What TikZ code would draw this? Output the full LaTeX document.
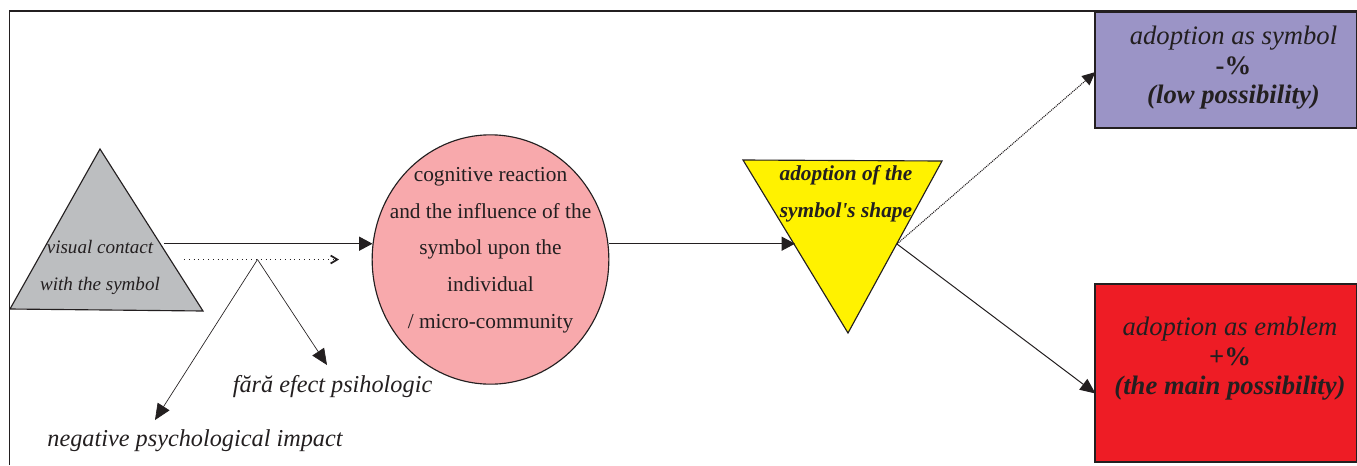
\documentclass[tikz,border=0pt]{standalone}
\usepackage{fontspec}
\setmainfont{Liberation Serif}
\newfontfamily\plainserif{Liberation Serif}
\usetikzlibrary{arrows.meta,shapes.geometric}
\definecolor{ink}{HTML}{231F20}
\definecolor{greyfill}{HTML}{BCBEC0}
\definecolor{pinkfill}{HTML}{F8A9AC}
\definecolor{yellowfill}{HTML}{FFF200}
\definecolor{violetfill}{HTML}{9B94C6}
\definecolor{redfill}{HTML}{EE1C25}
\newcommand{\fsz}[1]{\fontsize{#1}{#1}\selectfont}
\tikzset{
  x=0.75pt,y=-0.75pt,
  every node/.style={text=ink,inner sep=0pt,outer sep=0pt},
  shapeline/.style={draw=ink,line width=0.85pt},
  conn/.style={draw=ink,line width=0.8pt,-{Triangle[length=10pt,width=10.5pt,fill=ink]}},
  slantconn/.style={draw=ink,line width=0.75pt,-{Triangle[length=11.5pt,width=10pt,fill=ink]}},
  thinconn/.style={draw=ink,line width=0.5pt,-{Triangle[length=12pt,width=10.5pt,fill=ink]}},
  dotconn/.style={draw=ink,line width=0.8pt,dash pattern=on 0.8pt off 0.7pt,-{Triangle[length=10pt,width=9pt,fill=ink]}},
  chevconn/.style={draw=ink,line width=0.8pt,dash pattern=on 0.8pt off 2.8pt,-{Straight Barb[length=5pt,width=6pt,line width=1.3pt]}},
  smalltext/.style={font=\fsz{14.3}\itshape,anchor=base},
  bodytext/.style={font=\fsz{16}\rmfamily,anchor=base},
  yellowtext/.style={font=\fsz{16}\plainserif\bfseries\itshape,anchor=base},
  boxline/.style={font=\fsz{20}\itshape,anchor=base},
  boxbold/.style={font=\fsz{20}\bfseries\itshape,anchor=base},
  boxmid/.style={font=\fsz{20}\bfseries,anchor=base},
  bigcap/.style={font=\fsz{18.2}\itshape,anchor=base},
}
\begin{document}
\begin{tikzpicture}
\useasboundingbox (0,0) rectangle (1357,465);
% frame
\coordinate (fa) at (9.5,465);
\coordinate (fb) at (9.5,11);
\coordinate (fc) at (1357,11);
\draw[draw=ink,line width=0.8pt] (fa) -- (fb) -- (fc);
% grey triangle
\coordinate (ga) at (100,149);
\coordinate (gb) at (10,309);
\coordinate (gc) at (203,311);
\draw[shapeline,fill=greyfill] (ga) -- (gb) -- (gc) -- cycle;
% pink ellipse
\node (ell) [shapeline,fill=pinkfill,ellipse,minimum width=177.5pt,minimum height=187pt] at (490.5,259.5) {};
% yellow triangle
\coordinate (ya) at (743,160);
\coordinate (yb) at (942,161);
\coordinate (yc) at (848,333);
\draw[shapeline,fill=yellowfill] (ya) -- (yb) -- (yc) -- cycle;
% boxes
\node (boxa) [shapeline,fill=violetfill,minimum width=196.5pt,minimum height=87pt,anchor=north west] at (1095,12) {};
\node (boxb) [shapeline,fill=redfill,minimum width=196.5pt,minimum height=133.5pt,anchor=north west] at (1095,284) {};
% anchors of connectors
\coordinate (g1) at (164,243.7);
\coordinate (e1) at (372.5,243.7);
\coordinate (e2) at (609,243.7);
\coordinate (y1) at (795,243.7);
\coordinate (y2) at (897,244);
\coordinate (ba) at (1095.5,72);
\coordinate (bb) at (1095.5,393.5);
\coordinate (d1) at (184,259.5);
\coordinate (d2) at (339,259.5);
\coordinate (fork) at (257.5,259.5);
\coordinate (n1) at (155,420);
\coordinate (n2) at (327,365);
% connectors
\draw[conn] (g1) -- (e1);
\draw[chevconn] (d1) -- (d2);
\draw[thinconn] (fork) -- (n1);
\draw[thinconn] (fork) -- (n2);
\draw[conn] (e2) -- (y1);
\draw[dotconn] (y2) -- (ba);
\draw[slantconn] (y2) -- (bb);
% texts
\node (t1) [smalltext] at (100,253) {visual contact};
\node (t2) [smalltext] at (100,290) {with the symbol};
\node (c1) [bodytext] at (490.5,181) {cognitive reaction};
\node (c2) [bodytext] at (490.5,218) {and the influence of the};
\node (c3) [bodytext] at (490.5,254) {symbol upon the};
\node (c4) [bodytext] at (490.5,291) {individual};
\node (c5) [bodytext] at (490.5,328) {/ micro-community};
\node (y3) [yellowtext] at (846,180) {adoption of the};
\node (y4) [yellowtext] at (846,217) {symbol's shape};
\node (a1) [boxline] at (1233.5,44) {adoption as symbol};
\node (a2) [boxmid] at (1233.5,74) {-\%};
\node (a3) [boxbold] at (1233.5,103) {(low possibility)};
\node (b1) [boxline] at (1230,335) {adoption as emblem};
\node (b2) [boxmid] at (1230,365) {+\%};
\node (b3) [boxbold] at (1230,394) {(the main possibility)};
\node (l1) [bigcap] at (332.5,392) {fără efect psihologic};
\node (l2) [bigcap] at (195,446.5) {negative psychological impact};
\end{tikzpicture}
\end{document}
